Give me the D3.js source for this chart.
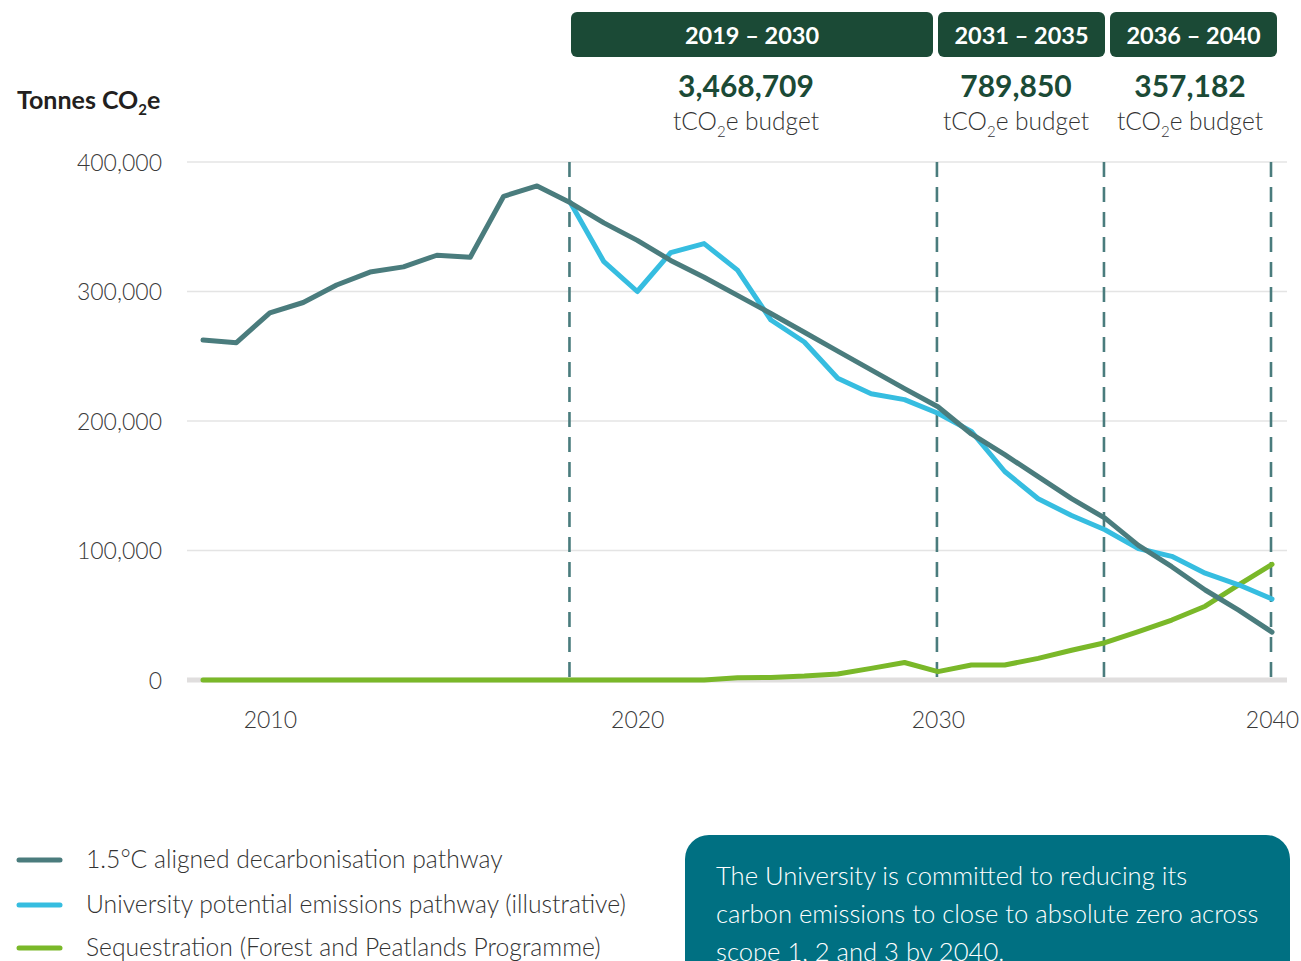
<!DOCTYPE html>
<html><head><meta charset="utf-8">
<script src="https://cdn.jsdelivr.net/npm/d3@7"></script>
<style>
body{margin:0;background:#fff;}
svg{display:block;font-family:"Source Sans Pro","Lato","Open Sans",sans-serif;}
</style></head>
<body><svg id="c" width="1301" height="961"></svg>
<script>
// ---- data ----
const years = d3.range(2008, 2041);
const pathway15 = [262500, 260500, 283500, 291500, 305000, 315000, 319000, 328000, 326500, 373500, 381500, 368500,
  353000, 339500, 324000, 311000, 297000, 283000, 268500, 254000, 239500, 225000, 211000,
  190000, 174000, 157000, 140000, 125000, 104000, 87500, 69500, 54000, 37000];
const uniYears = d3.range(2019, 2041);
const uniPathway = [368500, 323000, 300000, 330000, 337000, 316500, 278000, 261000, 233000, 221000, 216500, 206000,
  192000, 161000, 140000, 127000, 116000, 101500, 95500, 82500, 73500, 62500];
const sequestration = [0,0,0,0,0,0,0,0,0,0,0,0,0,0,0,0,
  1800, 2000, 3000, 4600, 9000, 13500, 6500, 11600, 11600, 16700, 23000, 28800, 37300, 46300, 57000, 73400, 89300];
const yTicks = [0, 100000, 200000, 300000, 400000];
const xTickValues = [2010, 2021, 2030, 2040];
const xTickLabels = ["2010", "2020", "2030", "2040"];
const periodBreaks = [2019, 2030, 2035, 2040];
const periods = ["2019 – 2030", "2031 – 2035", "2036 – 2040"];
const budgets = ["3,468,709", "789,850", "357,182"];
const legendLabels = ["1.5\u00B0C aligned decarbonisation pathway", "University potential emissions pathway (illustrative)", "Sequestration (Forest and Peatlands Programme)"];
const noteLines = ["The University is committed to reducing its", "carbon emissions to close to absolute zero across", "scope 1, 2 and 3 by 2040."];

const colDark = "#4a7c7d", colBlue = "#36bde0", colGreen = "#7ab829", colHead = "#1b4a36";

const svg = d3.select("#c");
const x = d3.scaleLinear().domain([2008, 2040]).range([203, 1272]);
const y = d3.scaleLinear().domain([0, 400000]).range([680, 162]);

// gridlines
svg.append("g").selectAll("line").data(yTicks).join("line")
  .attr("x1", 187).attr("x2", 1287)
  .attr("y1", d => y(d)).attr("y2", d => y(d))
  .attr("stroke", d => d === 0 ? "#e0dede" : "#e4e4e4")
  .attr("stroke-width", d => d === 0 ? 5 : 1.3);

// y axis labels
const yAxis = d3.axisLeft(y).tickValues(yTicks).tickFormat(d3.format(",")).tickSize(0).tickPadding(0);
const ga = svg.append("g").attr("transform", "translate(162,0)").call(yAxis);
ga.select(".domain").remove();
ga.selectAll("text").attr("font-size", 23).attr("fill", "#3a3a3a").attr("font-weight", 300)
  .attr("font-family", "'Source Sans Pro','Lato',sans-serif").attr("dy", "0.35em");

// x axis labels
const xAxis = d3.axisBottom(x).tickValues(xTickValues).tickFormat((d, i) => xTickLabels[i]).tickSize(0).tickPadding(0);
const gx = svg.append("g").attr("transform", "translate(0,720)").call(xAxis);
gx.select(".domain").remove();
gx.selectAll("text").attr("font-size", 23).attr("fill", "#3a3a3a").attr("font-weight", 300)
  .attr("font-family", "'Source Sans Pro','Lato',sans-serif").attr("dy", "0.35em");

// axis title
const tt = svg.append("text").attr("x", 17).attr("y", 109).attr("font-size", 25).attr("font-weight", 700).attr("fill", "#231f20");
tt.append("tspan").text("Tonnes CO");
tt.append("tspan").text("2").attr("font-size", 15).attr("dy", 6);
tt.append("tspan").text("e").attr("dy", -6);

// dashed lines
svg.append("g").selectAll("line").data(periodBreaks).join("line")
  .attr("x1", d => x(d) - 1).attr("x2", d => x(d) - 1).attr("y1", 162).attr("y2", 682)
  .attr("stroke", colDark).attr("stroke-width", 2.6).attr("stroke-dasharray", "15,10");

// lines
const line = d3.line().x(d => x(d[0])).y(d => y(d[1]));
svg.append("path").datum(years.map((yr, i) => [yr, sequestration[i]])).attr("d", line)
  .attr("fill", "none").attr("stroke", colGreen).attr("stroke-width", 5).attr("stroke-linecap", "round").attr("stroke-linejoin", "round");
svg.append("path").datum(uniYears.map((yr, i) => [yr, uniPathway[i]])).attr("d", line)
  .attr("fill", "none").attr("stroke", colBlue).attr("stroke-width", 5).attr("stroke-linecap", "round").attr("stroke-linejoin", "round");
svg.append("path").datum(years.map((yr, i) => [yr, pathway15[i]])).attr("d", line)
  .attr("fill", "none").attr("stroke", colDark).attr("stroke-width", 5).attr("stroke-linecap", "round").attr("stroke-linejoin", "round");

// header boxes
const boxes = [[571, 933], [938, 1105], [1110, 1277]];
const centers = [746, 1016, 1190];
boxes.forEach((b, i) => {
  svg.append("rect").attr("x", b[0]).attr("y", 12).attr("width", b[1] - b[0]).attr("height", 45).attr("rx", 6).attr("fill", colHead);
  svg.append("text").attr("x", (b[0] + b[1]) / 2).attr("y", 44).attr("text-anchor", "middle")
    .attr("font-size", 23.5).attr("font-weight", 700).attr("fill", "#fff").text(periods[i]);
  svg.append("text").attr("x", centers[i]).attr("y", 97).attr("text-anchor", "middle")
    .attr("font-size", 30).attr("font-weight", 700).attr("fill", colHead).text(budgets[i]);
  const t = svg.append("text").attr("x", centers[i]).attr("y", 130).attr("text-anchor", "middle")
    .attr("font-size", 24.5).attr("font-weight", 300).attr("fill", "#333");
  t.append("tspan").text("tCO");
  t.append("tspan").text("2").attr("font-size", 15).attr("dy", 7);
  t.append("tspan").text("e budget").attr("dy", -7);
});

// legend
const legCols = [colDark, colBlue, colGreen];
const legY = [860, 905, 948];
legendLabels.forEach((l, i) => {
  svg.append("line").attr("x1", 19).attr("x2", 60).attr("y1", legY[i]).attr("y2", legY[i])
    .attr("stroke", legCols[i]).attr("stroke-width", 5).attr("stroke-linecap", "round");
  svg.append("text").attr("x", 86).attr("y", legY[i] + 8).attr("font-size", 24.7).attr("font-weight", 300)
    .attr("fill", "#333").text(l);
});

// note box
svg.append("rect").attr("x", 685).attr("y", 835).attr("width", 605).attr("height", 160).attr("rx", 24).attr("fill", "#007082");
noteLines.forEach((l, i) => {
  svg.append("text").attr("x", 716).attr("y", 885 + i * 38).attr("font-size", 25.6).attr("font-weight", 300)
    .attr("fill", "#fff").text(l);
});
</script></body></html>
